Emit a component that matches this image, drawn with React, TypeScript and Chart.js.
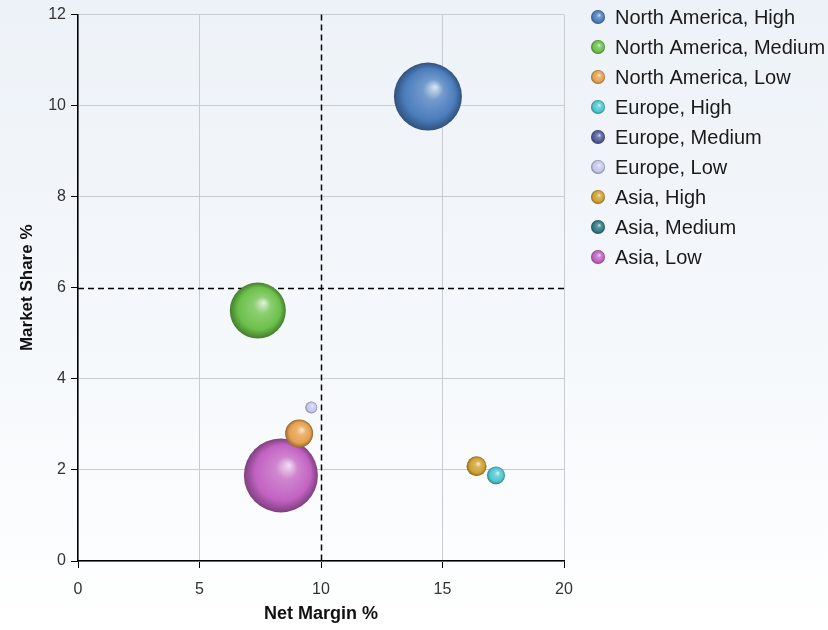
import React, { useEffect, useRef } from "react";
import { Chart, registerables, BubbleController } from "chart.js";

Chart.register(...registerables);
// keep the plot area independent of bubble radii (layout only)
(BubbleController.prototype as any).getMaxOverflow = function () {
  return 0;
};

// ---- data ----
const seriesLabels = [
  "North America, High",
  "North America, Medium",
  "North America, Low",
  "Europe, High",
  "Europe, Medium",
  "Europe, Low",
  "Asia, High",
  "Asia, Medium",
  "Asia, Low",
];
// Net Margin % (x), Market Share % (y), bubble size (null = no bubble)
const netMargin: (number | null)[] = [14.4, 7.4, 9.1, 17.2, null, 9.6, 16.4, null, 8.35];
const marketShare: (number | null)[] = [10.2, 5.5, 2.8, 1.88, null, 3.37, 2.08, null, 1.88];
const bubbleSize: (number | null)[] = [34, 28, 14, 9, null, 6, 10, null, 37];
const seriesColors = [
  "#4b7dbd",
  "#6cc04a",
  "#e6a04e",
  "#4fc6d0",
  "#525c9c",
  "#c3c6ea",
  "#cfa032",
  "#2f7a82",
  "#c262c2",
];
const xTicks = [0, 5, 10, 15, 20];
const yTicks = [0, 2, 4, 6, 8, 10, 12];
const xRefLine = 10;
const yRefLine = 6;

function shade(hex: string, f: number): string {
  const n = parseInt(hex.slice(1), 16);
  let r = (n >> 16) & 255, g = (n >> 8) & 255, b = n & 255;
  if (f >= 0) {
    r = r + (255 - r) * f; g = g + (255 - g) * f; b = b + (255 - b) * f;
  } else {
    r = r * (1 + f); g = g * (1 + f); b = b * (1 + f);
  }
  return `rgb(${Math.round(r)},${Math.round(g)},${Math.round(b)})`;
}

function sphere(ctx: CanvasRenderingContext2D, cx: number, cy: number, r: number, color: string) {
  if (!isFinite(cx) || !isFinite(cy) || !isFinite(r) || r <= 0) return color as any;
  const hx = cx + r * 0.22, hy = cy - r * 0.28;
  const g = ctx.createRadialGradient(hx, hy, 0, cx, cy, r);
  g.addColorStop(0, shade(color, 0.8));
  g.addColorStop(0.3, shade(color, 0.22));
  g.addColorStop(0.75, color);
  g.addColorStop(1, shade(color, -0.35));
  return g;
}

const FONT = "'Liberation Sans', Arial, sans-serif";

export default function App() {
  const ref = useRef<HTMLCanvasElement | null>(null);

  useEffect(() => {
    document.body.style.margin = "0";
    const canvas = ref.current!;
    const datasets = seriesLabels.map((label, i) => ({
      label,
      data:
        netMargin[i] == null
          ? []
          : [{ x: netMargin[i] as number, y: marketShare[i] as number, r: bubbleSize[i] as number }],
      borderWidth: 0,
      hoverBorderWidth: 0,
      backgroundColor: seriesColors[i],
    }));

    const bgPlugin = {
      id: "bg",
      beforeDraw(chart: any) {
        const { ctx, width, height } = chart;
        const g = ctx.createLinearGradient(0, 0, 0, height);
        g.addColorStop(0, "#edf2f8");
        g.addColorStop(0.6, "#f6f9fc");
        g.addColorStop(1, "#ffffff");
        ctx.save();
        ctx.fillStyle = g;
        ctx.fillRect(0, 0, width, height);
        ctx.restore();
      },
    };

    const refLines = {
      id: "refLines",
      beforeDatasetsDraw(chart: any) {
        const { ctx, chartArea, scales } = chart;
        const x = Math.round(scales.x.getPixelForValue(xRefLine)) + 0.5;
        const y = Math.round(scales.y.getPixelForValue(yRefLine)) + 0.5;
        ctx.save();
        ctx.strokeStyle = "#000";
        ctx.lineWidth = 1.5;
        ctx.setLineDash([6, 4]);
        ctx.beginPath();
        ctx.moveTo(x, chartArea.top);
        ctx.lineTo(x, chartArea.bottom);
        ctx.moveTo(chartArea.left, y);
        ctx.lineTo(chartArea.right, y);
        ctx.stroke();
        ctx.restore();
        // sphere shading for bubbles
        chart.getSortedVisibleDatasetMetas().forEach((meta: any) => {
          const color = seriesColors[meta.index];
          meta.data.forEach((el: any) => {
            if (el.options) {
              el.options.backgroundColor = sphere(ctx, el.x, el.y, el.options.radius, color);
            }
          });
        });
      },
    };

    const legendPlugin = {
      id: "sphereLegend",
      afterDraw(chart: any) {
        const { ctx } = chart;
        ctx.save();
        ctx.font = `20px ${FONT}`;
        ctx.textBaseline = "middle";
        ctx.textAlign = "left";
        seriesLabels.forEach((label, i) => {
          const y = 17 + i * 30;
          const cx = 598, r = 7;
          ctx.beginPath();
          ctx.arc(cx, y, r, 0, Math.PI * 2);
          ctx.fillStyle = sphere(ctx, cx, y, r, seriesColors[i]);
          ctx.fill();
          ctx.fillStyle = "#1a1a1a";
          ctx.fillText(label, 615, y + 1);
        });
        ctx.restore();
      },
    };

    const chart = new Chart(canvas, {
      type: "bubble",
      data: { datasets: datasets as any },
      plugins: [bgPlugin, refLines, legendPlugin],
      options: {
        animation: false,
        responsive: false,
        events: [],
        layout: { padding: { top: 12, right: 264, left: 0, bottom: 0 } },
        plugins: { legend: { display: false }, tooltip: { enabled: false } },
        scales: {
          x: {
            type: "linear",
            min: 0,
            max: 20,
            afterBuildTicks: (s: any) => { s.ticks = xTicks.map((v) => ({ value: v })); },
            afterFit: (s: any) => { s.height = 69; },
            grid: {
              color: (c: any) => (c.tick && c.tick.value === xRefLine ? "rgba(0,0,0,0)" : "#c8cbd0"),
              tickColor: "#000",
              tickLength: 7,
              lineWidth: 1,
            },
            border: { color: "#000", width: 1.5 },
            ticks: { color: "#333", font: { family: FONT, size: 16 }, padding: 12 },
            title: {
              display: true,
              text: "Net Margin %",
              color: "#111",
              font: { family: FONT, size: 18, weight: "bold" },
              padding: { top: 0, bottom: 5 },
            },
          },
          y: {
            type: "linear",
            min: 0,
            max: 12,
            afterBuildTicks: (s: any) => { s.ticks = yTicks.map((v) => ({ value: v })); },
            afterFit: (s: any) => { s.width = 78; },
            grid: {
              color: (c: any) => (c.tick && c.tick.value === yRefLine ? "rgba(0,0,0,0)" : "#c8cbd0"),
              tickColor: "#000",
              tickLength: 7,
              lineWidth: 1,
            },
            border: { color: "#000", width: 1.5 },
            ticks: { color: "#333", font: { family: FONT, size: 16 }, padding: 5 },
            title: {
              display: true,
              text: "Market Share %",
              color: "#111",
              font: { family: FONT, size: 17, weight: "bold" },
              padding: { top: 17, bottom: 0 },
            },
          },
        },
      },
    });
    return () => chart.destroy();
  }, []);

  return (
    <div style={{ position: "absolute", left: 0, top: 0, width: 828, height: 630 }}>
      <canvas ref={ref} width={828} height={630} style={{ width: 828, height: 630, display: "block" }} />
    </div>
  );
}
